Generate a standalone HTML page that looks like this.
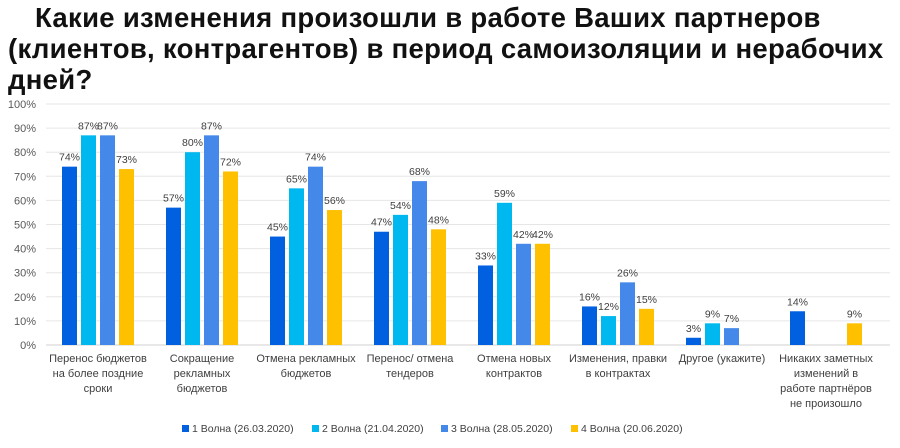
<!DOCTYPE html>
<html><head><meta charset="utf-8"><style>
body{margin:0;width:900px;height:448px;background:#fff;overflow:hidden;font-family:"Liberation Sans",sans-serif}
#title{position:absolute;left:8px;top:2px;width:890px;font-size:27.5px;font-weight:bold;line-height:31px;color:#111;white-space:nowrap;letter-spacing:0.3px}
svg{position:absolute;left:0;top:0}
</style></head><body>
<div id="title"><span style="padding-left:27px">Какие изменения произошли в работе Ваших партнеров</span><br>(клиентов, контрагентов) в период самоизоляции и нерабочих<br>дней?</div>
<svg id="c" width="900" height="448"></svg>
<script>
const categories=[["Перенос бюджетов","на более поздние","сроки"],["Сокращение","рекламных","бюджетов"],["Отмена рекламных","бюджетов"],["Перенос/ отмена","тендеров"],["Отмена новых","контрактов"],["Изменения, правки","в контрактах"],["Другое (укажите)"],["Никаких заметных","изменений в","работе партнёров","не произошло"]];
const wave1=[74,57,45,47,33,16,3,14];
const wave2=[87,80,65,54,59,12,9,null];
const wave3=[87,87,74,68,42,26,7,null];
const wave4=[73,72,56,48,42,15,null,9];
const seriesNames=["1 Волна (26.03.2020)","2 Волна (21.04.2020)","3 Волна (28.05.2020)","4 Волна (20.06.2020)"];
const ticks=[0,10,20,30,40,50,60,70,80,90,100];
const colors=["#0060E0","#00B8F0","#4489EA","#FFC000"];
const series=[wave1,wave2,wave3,wave4];
const NS="http://www.w3.org/2000/svg",svg=document.getElementById('c');
const x0=46,x1=878,y0=345,y1=104;
const y=v=>y0-(v/100)*(y0-y1);
const step=(x1-x0)/categories.length;
const cx=i=>x0+step*(i+0.5);
function el(t,a,txt){const e=document.createElementNS(NS,t);for(const k in a)e.setAttribute(k,a[k]);if(txt!=null)e.textContent=txt;svg.appendChild(e);return e;}
ticks.forEach(t=>{
 const g=el('line',{x1:x0,x2:890,y1:y(t),y2:y(t),stroke:t?'#e6e6e6':'#d0d0d0','stroke-width':1});
 
 
 const l=el('text',{x:36,y:y(t)+4,'text-anchor':'end','font-size':11,fill:'#595959'},t+'%');
 
 
});
const bw=15,gap=4;
categories.forEach((c,i)=>{
 series.forEach((s,j)=>{
  const v=s[i];if(v==null)return;
  const bx=cx(i)+(j-1.5)*(bw+gap)-bw/2;
  const r=el('rect',{x:bx,y:y(v),width:bw,height:y0-y(v),fill:colors[j]});
  
  
  const t=el('text',{x:bx+bw/2,y:y(v)-6,'text-anchor':'middle','font-size':10.5,fill:'#404040'},v+'%');
  
  
 });
 c.forEach((ln,k)=>{
  const t=el('text',{x:cx(i),y:362+k*15,'text-anchor':'middle','font-size':11,fill:'#404040'},ln);
  
  
 });
});
const lx=[182,312,441,571];
seriesNames.forEach((n,j)=>{
 const r=el('rect',{x:lx[j],y:425,width:7,height:7,fill:colors[j]});
 
 
 const t=el('text',{x:lx[j]+10,y:432,'font-size':10.5,fill:'#404040'},n);
 
 
});
</script>
</body></html>
